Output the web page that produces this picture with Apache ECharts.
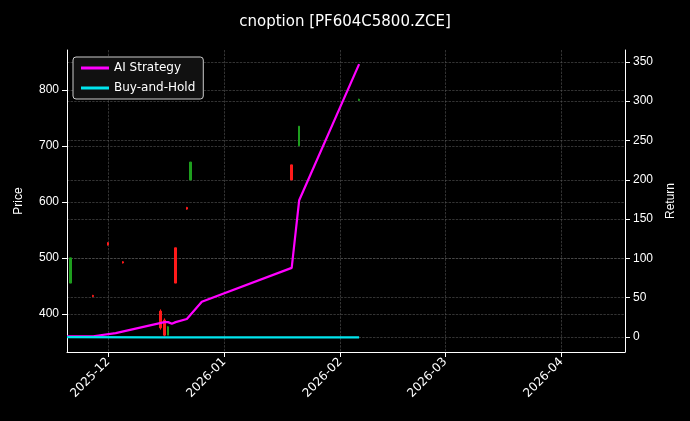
<!DOCTYPE html><html><head><meta charset="utf-8"><script src="https://cdn.jsdelivr.net/npm/echarts@6/dist/echarts.min.js"></script>
<style>html,body{margin:0;background:#000}#c{width:690px;height:421px}</style></head><body><div id="c"></div><script>
const candleDates=['2025-11-21','2025-11-27','2025-12-01','2025-12-05','2025-12-15','2025-12-16','2025-12-17','2025-12-19','2025-12-22','2025-12-23','2026-01-19','2026-01-21','2026-02-06'];
const candleOpen=[455,433,527,493,405,389,362,518,590,639,666,700,781];
const candleClose=[500,431,523,491,375,362,377,455,587,671,639,735,783];
const candleLow=[455,430,522,490,372,360,362,455,586,639,639,700,780];
const candleHigh=[500,434,528,494,408,392,378,518,591,671,666,735,784];
const aiDates=['2025-11-20','2025-11-27','2025-12-03','2025-12-16','2025-12-17','2025-12-18','2025-12-19','2025-12-22','2025-12-26','2026-01-19','2026-01-21','2026-02-06'];
const aiReturn=[1,1,5,19,19,17,19,23,45,88,174,347];
const bhDates=['2025-11-20','2025-12-15','2026-01-19','2026-02-06'];
const bhReturn=[0,-0.5,-0.5,-0.5];
const xTicks=['2025-12-01','2026-01-01','2026-02-01','2026-03-01','2026-04-01'];
const t=d=>Date.parse(d+'T00:00:00Z');
const ch=echarts.init(document.getElementById('c'));
const grid={lineStyle:{color:'#555',type:'dashed',width:0.6}};
const ax={lineStyle:{color:'#fff'}};
const xt=xTicks.map(t);
ch.setOption({backgroundColor:'#000',animation:false,
title:{text:'cnoption [PF604C5800.ZCE]',left:'center',top:10,textStyle:{color:'#fff',fontSize:15,fontWeight:'normal',fontFamily:'DejaVu Sans'}},
legend:{left:73,top:57,orient:'vertical',itemWidth:28,itemHeight:3,itemGap:8,backgroundColor:'#111',borderColor:'#ccc',borderWidth:1,borderRadius:3,padding:[5,8],textStyle:{color:'#fff',fontSize:12,fontFamily:'DejaVu Sans'},data:[{name:'AI Strategy',icon:'rect'},{name:'Buy-and-Hold',icon:'rect'}]},
grid:{left:67,right:65,top:50,bottom:69},
xAxis:{type:'value',min:t('2025-11-20'),max:t('2026-04-18'),axisLine:{onZero:false,...ax},splitLine:{show:true,...grid},
axisLabel:{color:'#fff',rotate:45,fontSize:12,fontFamily:'DejaVu Sans',customValues:xt,formatter:v=>{const d=new Date(v);return d.getUTCFullYear()+'-'+String(d.getUTCMonth()+1).padStart(2,'0')}},
axisTick:{lineStyle:{color:'#fff'},customValues:xt}},
yAxis:[{type:'value',min:332,max:871,name:'Price',nameLocation:'middle',nameGap:42,nameTextStyle:{color:'#fff',fontSize:12},axisLine:{show:true,...ax},axisTick:{show:true,lineStyle:{color:'#fff'},customValues:[400,500,600,700,800]},axisLabel:{color:'#fff',fontSize:12,customValues:[400,500,600,700,800]},splitLine:{show:true,...grid}},
{type:'value',min:-19,max:365,name:'Return',nameLocation:'middle',nameGap:40,nameTextStyle:{color:'#fff',fontSize:12},axisLine:{show:true,...ax},axisTick:{show:true,lineStyle:{color:'#fff'},customValues:[0,50,100,150,200,250,300,350]},axisLabel:{color:'#fff',fontSize:12,customValues:[0,50,100,150,200,250,300,350]},splitLine:{show:true,...grid}}],
series:[
{type:'candlestick',name:'Price',yAxisIndex:0,barWidth:2,data:candleDates.map((d,i)=>[t(d),candleOpen[i],candleClose[i],candleLow[i],candleHigh[i]]),itemStyle:{color:'#1e9e1e',color0:'#ff1a1a',borderColor:'#1e9e1e',borderColor0:'#ff1a1a'}},
{type:'line',name:'AI Strategy',yAxisIndex:1,data:aiDates.map((d,i)=>[t(d),aiReturn[i]]),symbol:'none',lineStyle:{color:'#ff00ff',width:2.2},itemStyle:{color:'#ff00ff'}},
{type:'line',name:'Buy-and-Hold',yAxisIndex:1,data:bhDates.map((d,i)=>[t(d),bhReturn[i]]),symbol:'none',lineStyle:{color:'#00e5ee',width:2.2},itemStyle:{color:'#00e5ee'}}
]});
</script></body></html>
